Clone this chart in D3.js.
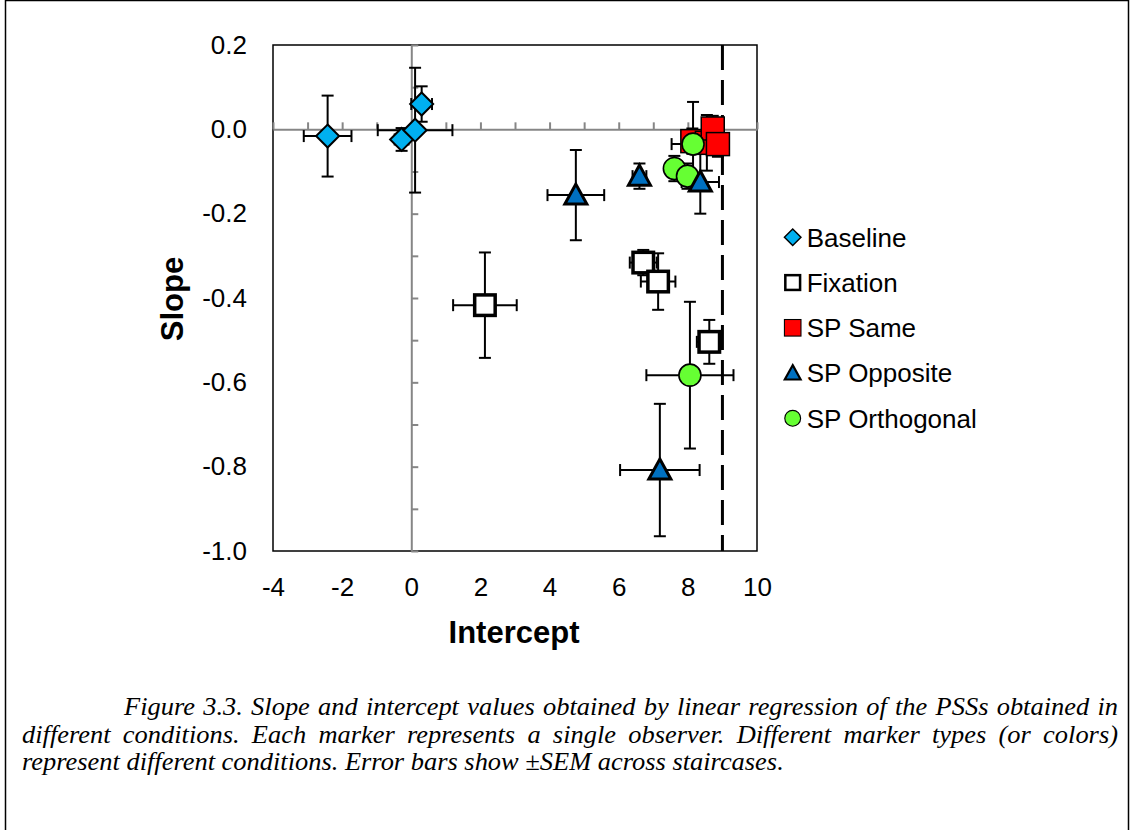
<!DOCTYPE html>
<html>
  <head>
    <meta charset="utf-8" />
    <title>Slope vs intercept</title>
    <script src="https://cdnjs.cloudflare.com/ajax/libs/d3/7.8.5/d3.min.js"></script>
    <style>
      body {
        margin: 0;
        background: #fff;
      }
      text {
        font-family: Arial, "Liberation Sans", sans-serif;
        fill: #000;
      }
      .caption {
        font-family: "Times New Roman", "Liberation Serif", serif;
        font-style: italic;
      }
      .err {
        stroke: #000;
        stroke-width: 2px;
      }
      .zero-axis path,
      .zero-axis line {
        stroke: #868686;
        stroke-width: 2px;
      }
    </style>
  </head>
  <body>
    <svg id="chart" width="1135" height="830"></svg>
    <script>
      // series (legend order)
      const seriesNames = ["Baseline", "Fixation", "SP Same", "SP Opposite", "SP Orthogonal"];

      const baselineX = [-2.42, -0.28, 0.11, 0.3];
      const baselineY = [-0.016, -0.024, -0.002, 0.06];
      const baselineXErr = [0.69, 0.2, 1.08, 0.3];
      const baselineYErr = [0.096, 0.027, 0.148, 0.042];

      const fixationX = [2.13, 6.71, 7.14, 8.62];
      const fixationY = [-0.417, -0.316, -0.361, -0.504];
      const fixationXErr = [0.92, 0.39, 0.5, 0.36];
      const fixationYErr = [0.125, 0.03, 0.067, 0.052];

      const sameX = [8.13, 8.55, 8.72, 8.87];
      const sameY = [-0.028, -0.032, 0.002, -0.035];
      const sameXErr = [0.1, 0.15, 0.1, 0.1];
      const sameYErr = [0.03, 0.066, 0.03, 0.03];

      const oppositeX = [4.76, 6.6, 8.36, 7.19];
      const oppositeY = [-0.156, -0.111, -0.125, -0.808];
      const oppositeXErr = [0.82, 0.2, 0.54, 1.15];
      const oppositeYErr = [0.107, 0.03, 0.075, 0.157];

      const orthogonalX = [8.15, 7.61, 7.99, 8.06];
      const orthogonalY = [-0.035, -0.093, -0.111, -0.583];
      const orthogonalXErr = [0.62, 0.15, 0.2, 1.26];
      const orthogonalYErr = [0.1, 0.03, 0.03, 0.174];

      const interceptTicks = [-4, -2, 0, 2, 4, 6, 8, 10];
      const slopeTicks = [0.2, 0.0, -0.2, -0.4, -0.6, -0.8, -1.0];
      const criterion = 9; // dashed vertical line

      const captionLines = [
        "Figure 3.3. Slope and intercept values obtained by linear regression of the PSSs obtained in",
        "different conditions. Each marker represents a single observer. Different marker types (or colors)",
        "represent different conditions. Error bars show \u00B1SEM across staircases.",
      ];

      const svg = d3.select("#chart");

      const plotLeft = 273, plotRight = 757, plotTop = 45, plotBottom = 551;
      const x = d3.scaleLinear().domain([-4, 10]).range([plotLeft, plotRight]);
      const y = d3.scaleLinear().domain([-1, 0.2]).range([plotBottom, plotTop]);

      // outer figure box
      svg.append("path")
        .attr("d", "M5.5,830 V0.5 H1128.5 V830")
        .attr("fill", "none")
        .attr("stroke", "#000")
        .attr("stroke-width", 1.5);

      // plot frame
      svg.append("rect")
        .attr("x", plotLeft).attr("y", plotTop)
        .attr("width", plotRight - plotLeft).attr("height", plotBottom - plotTop)
        .attr("fill", "none")
        .attr("stroke", "#000")
        .attr("stroke-width", 1.5);

      // gray axes crossing at zero
      svg.append("g")
        .attr("class", "zero-axis")
        .attr("transform", `translate(0,${y(0)})`)
        .call(d3.axisTop(x).ticks(14).tickSize(7).tickSizeOuter(0).tickFormat(""));

      svg.append("g")
        .attr("class", "zero-axis")
        .attr("transform", `translate(${x(0)},0)`)
        .call(d3.axisRight(y).tickValues(d3.range(-10, 3).map((d) => d / 10))
          .tickSize(7).tickSizeOuter(0).tickFormat(""));

      // tick labels
      const yAxis = svg.append("g")
        .attr("transform", `translate(${plotLeft},0)`)
        .call(d3.axisLeft(y).tickValues(slopeTicks).tickSize(0).tickPadding(26)
          .tickFormat((d) => d.toFixed(1)));
      const xAxis = svg.append("g")
        .attr("transform", `translate(0,${plotBottom})`)
        .call(d3.axisBottom(x).tickValues(interceptTicks).tickSize(0).tickPadding(27)
          .tickFormat((d) => String(d)));
      [xAxis, yAxis].forEach((a) => {
        a.select(".domain").remove();
        a.selectAll("text")
          .style("font-family", 'Arial, "Liberation Sans", sans-serif')
          .style("font-size", "26px")
          .attr("fill", "#000");
      });

      // axis titles
      svg.append("text")
        .attr("transform", "translate(183,299) rotate(-90)")
        .attr("text-anchor", "middle")
        .style("font-size", "31px")
        .style("font-weight", "bold")
        .text("Slope");
      svg.append("text")
        .attr("x", 514).attr("y", 643)
        .attr("text-anchor", "middle")
        .style("font-size", "31px")
        .style("font-weight", "bold")
        .text("Intercept");

      // dashed line at intercept = 9
      svg.append("line")
        .attr("x1", x(criterion)).attr("x2", x(criterion))
        .attr("y1", plotTop).attr("y2", plotBottom)
        .attr("stroke", "#000")
        .attr("stroke-width", 3)
        .attr("stroke-dasharray", "25,10");

      // marker shapes, s = scale
      const shapes = {
        diamond: (g, s) => g.append("path")
          .attr("d", `M0,${-11.5 * s}L${11.5 * s},0L0,${11.5 * s}L${-11.5 * s},0Z`)
          .attr("fill", "#00B0F0").attr("stroke", "#000").attr("stroke-width", 2 * s),
        open: (g, s) => g.append("rect")
          .attr("x", -10.25 * s).attr("y", -10.25 * s)
          .attr("width", 20.5 * s).attr("height", 20.5 * s)
          .attr("fill", "#fff").attr("stroke", "#000").attr("stroke-width", 3.5 * s),
        red: (g, s) => g.append("rect")
          .attr("x", -11.5 * s).attr("y", -11.5 * s)
          .attr("width", 23 * s).attr("height", 23 * s)
          .attr("fill", "#FF0000").attr("stroke", "#000").attr("stroke-width", 1.5 * s),
        triangle: (g, s) => g.append("path")
          .attr("d", `M0,${-11 * s}L${11 * s},${9 * s}L${-11 * s},${9 * s}Z`)
          .attr("fill", "#0070C0").attr("stroke", "#000").attr("stroke-width", 3 * s)
          .attr("stroke-linejoin", "miter"),
        circle: (g, s) => g.append("circle")
          .attr("r", 11 * s)
          .attr("fill", "#66FF33").attr("stroke", "#000").attr("stroke-width", 1.6 * s),
      };

      const series = [
        { name: seriesNames[0], shape: "diamond", xs: baselineX, ys: baselineY, xe: baselineXErr, ye: baselineYErr },
        { name: seriesNames[1], shape: "open", xs: fixationX, ys: fixationY, xe: fixationXErr, ye: fixationYErr },
        { name: seriesNames[2], shape: "red", xs: sameX, ys: sameY, xe: sameXErr, ye: sameYErr },
        { name: seriesNames[3], shape: "triangle", xs: oppositeX, ys: oppositeY, xe: oppositeXErr, ye: oppositeYErr },
        { name: seriesNames[4], shape: "circle", xs: orthogonalX, ys: orthogonalY, xe: orthogonalXErr, ye: orthogonalYErr },
      ];
      series.forEach((s) => {
        s.points = s.xs.map((v, i) => ({ x: v, y: s.ys[i], xe: s.xe[i], ye: s.ye[i] }));
      });

      // error bars under all markers
      const cap = 6;
      const errG = svg.append("g");
      series.forEach((s) => {
        s.points.forEach((p) => {
          const g = errG.append("g");
          const cx = x(p.x), cy = y(p.y);
          const x0 = x(p.x - p.xe), x1 = x(p.x + p.xe);
          const y0 = y(p.y + p.ye), y1 = y(p.y - p.ye);
          g.append("line").attr("class", "err").attr("x1", x0).attr("x2", x1).attr("y1", cy).attr("y2", cy);
          g.append("line").attr("class", "err").attr("x1", x0).attr("x2", x0).attr("y1", cy - cap).attr("y2", cy + cap);
          g.append("line").attr("class", "err").attr("x1", x1).attr("x2", x1).attr("y1", cy - cap).attr("y2", cy + cap);
          g.append("line").attr("class", "err").attr("x1", cx).attr("x2", cx).attr("y1", y0).attr("y2", y1);
          g.append("line").attr("class", "err").attr("x1", cx - cap).attr("x2", cx + cap).attr("y1", y0).attr("y2", y0);
          g.append("line").attr("class", "err").attr("x1", cx - cap).attr("x2", cx + cap).attr("y1", y1).attr("y2", y1);
        });
      });

      // markers; triangles end up on top of the circles as in the figure
      const drawOrder = [0, 1, 2, 4, 3];
      drawOrder.forEach((k) => {
        const s = series[k];
        s.points.forEach((p) => {
          const g = svg.append("g").attr("transform", `translate(${x(p.x)},${y(p.y)})`);
          shapes[s.shape](g, 1);
        });
      });

      // legend
      const legend = svg.append("g").attr("transform", "translate(792.7,237.3)");
      series.forEach((s, i) => {
        const g = legend.append("g").attr("transform", `translate(0,${i * 45.25})`);
        shapes[s.shape](g, 0.72);
        g.append("text")
          .attr("x", 14).attr("y", 9.3)
          .style("font-size", "26px")
          .text(s.name);
      });

      // caption: tall, slightly condensed serif, justified like the source page
      const capG = svg.append("g");
      const lineX = [124, 22, 22];
      const lineEnd = 1118;
      const baselines = [715, 742.5, 770];
      const capFont = 25;
      const probe = capG.append("text").attr("class", "caption").style("font-size", capFont + "px").text(captionLines[2]);
      const squeeze = 762 / probe.node().getComputedTextLength();
      probe.remove();
      captionLines.forEach((line, i) => {
        const t = capG.append("text")
          .attr("class", "caption")
          .attr("transform", `translate(${lineX[i]},${baselines[i]}) scale(${squeeze},1)`)
          .style("font-size", capFont + "px")
          .text(line);
        if (i < 2) {
          const spaces = line.split(" ").length - 1;
          const extra = (lineEnd - lineX[i]) / squeeze - t.node().getComputedTextLength();
          t.style("word-spacing", extra / spaces + "px");
        }
      });
    </script>
  </body>
</html>
